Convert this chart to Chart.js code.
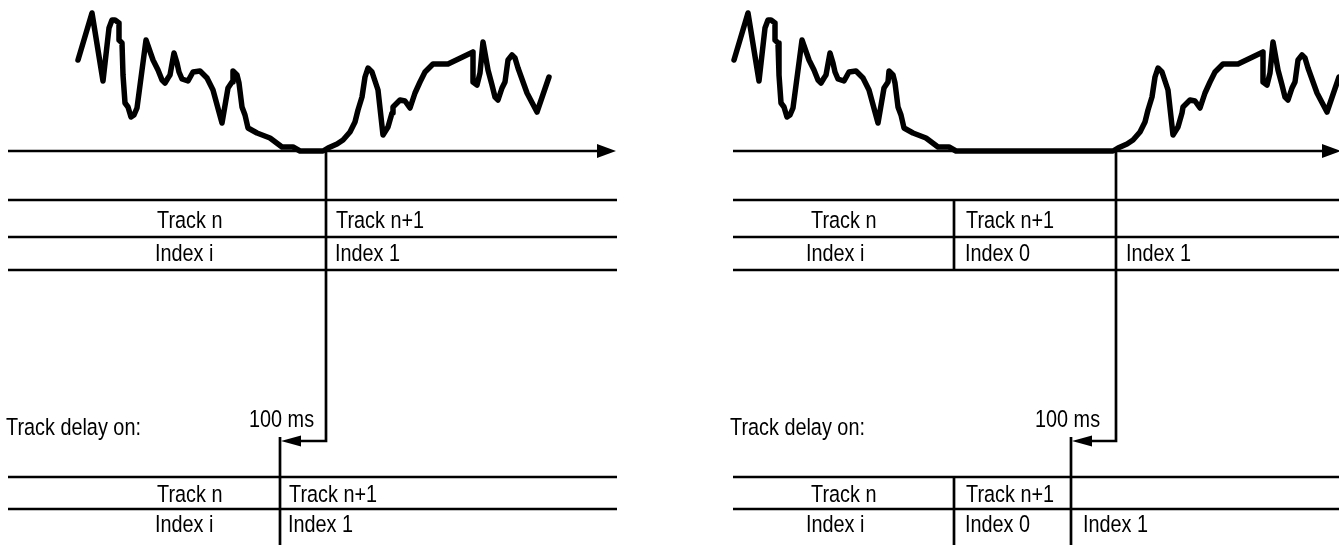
<!DOCTYPE html>
<html>
<head>
<meta charset="utf-8">
<title>Track delay</title>
<script src="https://cdn.jsdelivr.net/npm/chart.js@4.4.1/dist/chart.umd.min.js"></script>
<style>
html, body { margin: 0; padding: 0; background: #fff; }
#wrap { position: relative; width: 1339px; height: 545px; }
</style>
</head>
<body>
<div id="wrap"><canvas id="diagram" width="1339" height="545"></canvas></div>
<script>
// audio level before the silent gap (time from start of wave, level above time axis)
const leadT = [0, 14, 25, 31, 34, 37, 41, 41, 44, 45, 47, 50, 53, 56, 59, 68, 75, 80, 84, 87,
    90, 92, 96, 99, 101, 104, 110, 115, 122, 129, 135, 144, 150, 154, 155, 159, 161, 164, 167, 170,
    179, 192, 204, 215, 222];
const leadLevel = [91, 138, 70, 123, 131, 131, 128, 111, 108, 76, 48, 44, 34, 36, 43, 111, 91, 81, 71, 68,
    73, 76, 98, 88, 79, 72, 70, 79, 80, 73, 61, 28, 63, 69, 80, 76, 68, 44, 36, 23,
    18, 13, 4, 4, 0];

// audio level after the gap (time from end of silence)
const tailT = [0, 5, 14, 20, 27, 32, 35, 39, 42, 45, 49, 51, 55, 60, 65, 69, 70, 77, 82, 87,
    92, 97, 102, 110, 125, 150, 150, 154, 157, 160, 165, 169, 172, 175, 179, 182, 185, 189, 192, 195,
    204, 214, 226];
const tailLevel = [0, 3, 7, 11, 19, 29, 41, 54, 74, 83, 79, 73, 61, 16, 24, 38, 44, 51, 50, 43,
    58, 69, 79, 87, 87, 99, 69, 66, 78, 109, 81, 66, 54, 51, 63, 69, 91, 96, 93, 83,
    58, 39, 74];

// texts
const trackLabels = ['Track n', 'Track n+1'];
const indexLeft = ['Index i', 'Index 1'];
const indexRight = ['Index i', 'Index 0', 'Index 1'];
const delayCaption = 'Track delay on:';
const delayValue = '100 ms';

// layout (canvas units)
const AXIS_Y = 151;
const ROWS_TOP = [200, 237, 270];
const ROWS_BOTTOM = [477, 509];
const TURN_Y = 441;
const BOTTOM = 545;

const panels = [
    { x0: 8, x1: 598, tip: 616, waveX: 78, resumeX: 323, splitX: 326, delayX: 280, colX: null,
      labels: [
        [trackLabels[0], 157, 228], [trackLabels[1], 336, 228],
        [indexLeft[0], 155, 261], [indexLeft[1], 335, 261],
        [delayCaption, 6, 435], [delayValue, 249, 427],
        [trackLabels[0], 157, 502], [trackLabels[1], 289, 502],
        [indexLeft[0], 155, 532], [indexLeft[1], 288, 532]
      ] },
    { x0: 733, x1: 1323, tip: 1341, waveX: 734, resumeX: 1113, splitX: 1116, delayX: 1071, colX: 954,
      labels: [
        [trackLabels[0], 811, 228], [trackLabels[1], 966, 228],
        [indexRight[0], 806, 261], [indexRight[1], 965, 261], [indexRight[2], 1126, 261],
        [delayCaption, 730, 435], [delayValue, 1035, 427],
        [trackLabels[0], 811, 502], [trackLabels[1], 966, 502],
        [indexRight[0], 806, 532], [indexRight[1], 965, 532], [indexRight[2], 1083, 532]
      ] }
];

function seg(points, width) {
    return {
        data: points.map(p => ({ x: p[0], y: p[1] })),
        borderColor: '#000',
        borderWidth: width || 2.7,
        pointRadius: 0,
        tension: 0,
        fill: false,
        clip: false,
        borderCapStyle: 'butt'
    };
}

const datasets = [];
panels.forEach(p => {
    // waveform
    const wave = [];
    leadT.forEach((t, i) => wave.push([p.waveX + t, AXIS_Y - leadLevel[i]]));
    tailT.forEach((t, i) => wave.push([p.resumeX + t, AXIS_Y - tailLevel[i]]));
    const w = seg(wave, 5.5);
    w.borderJoinStyle = 'round';
    w.borderCapStyle = 'round';
    datasets.push(w);

    // time axis
    datasets.push(seg([[p.x0, AXIS_Y], [p.x1 + 2, AXIS_Y]]));
    // table rules
    ROWS_TOP.concat(ROWS_BOTTOM).forEach(y => {
        datasets.push(seg([[p.x0, y], [p.tip + 1, y]]));
    });
    // delay path
    datasets.push(seg([[p.splitX, AXIS_Y], [p.splitX, TURN_Y], [p.delayX + 18, TURN_Y]]));
    datasets.push(seg([[p.delayX, TURN_Y - 4], [p.delayX, BOTTOM]]));
    // extra column divider
    if (p.colX) {
        datasets.push(seg([[p.colX, ROWS_TOP[0]], [p.colX, ROWS_TOP[2]]]));
        datasets.push(seg([[p.colX, ROWS_BOTTOM[0]], [p.colX, BOTTOM]]));
    }
});

const overlay = {
    id: 'overlay',
    afterDatasetsDraw(chart) {
        const ctx = chart.ctx;
        const sx = chart.scales.x, sy = chart.scales.y;
        ctx.save();
        ctx.fillStyle = '#000';
        panels.forEach(p => {
            // arrow on time axis
            const ay = sy.getPixelForValue(AXIS_Y);
            ctx.beginPath();
            ctx.moveTo(sx.getPixelForValue(p.tip), ay);
            ctx.lineTo(sx.getPixelForValue(p.x1 - 1), ay - 7);
            ctx.lineTo(sx.getPixelForValue(p.x1 - 1), ay + 7);
            ctx.closePath();
            ctx.fill();
            // arrow on delay path
            const ty = sy.getPixelForValue(TURN_Y);
            const tx = sx.getPixelForValue(p.delayX + 1);
            ctx.beginPath();
            ctx.moveTo(tx, ty);
            ctx.lineTo(tx + 20, ty - 5.5);
            ctx.lineTo(tx + 20, ty + 5.5);
            ctx.closePath();
            ctx.fill();
            // texts
            ctx.font = '24.5px "Liberation Sans", Arial, sans-serif';
            ctx.textAlign = 'left';
            ctx.textBaseline = 'alphabetic';
            p.labels.forEach(l => {
                ctx.save();
                ctx.translate(sx.getPixelForValue(l[1]), sy.getPixelForValue(l[2]));
                ctx.scale(0.81, 1);
                ctx.fillText(l[0], 0, 0);
                ctx.restore();
            });
        });
        ctx.restore();
    }
};

new Chart(document.getElementById('diagram'), {
    type: 'line',
    data: { datasets: datasets },
    options: {
        responsive: false,
        devicePixelRatio: 1,
        animation: false,
        layout: { padding: 0 },
        plugins: { legend: { display: false }, tooltip: { enabled: false } },
        scales: {
            x: { type: 'linear', display: false, min: 0, max: 1339 },
            y: { type: 'linear', display: false, min: 0, max: 545, reverse: true }
        }
    },
    plugins: [overlay]
});
</script>
</body>
</html>
